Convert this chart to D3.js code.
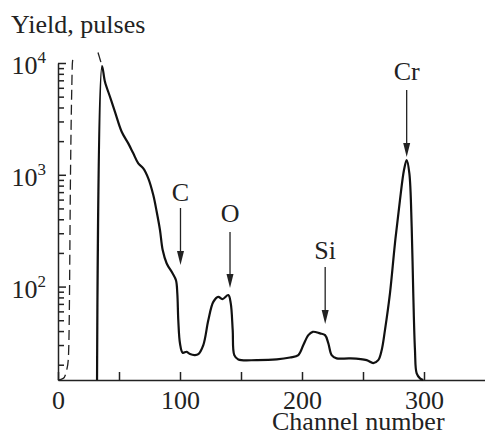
<!DOCTYPE html>
<html><head><meta charset="utf-8">
<script src="https://cdn.jsdelivr.net/npm/d3@7"></script>
<style>body{margin:0;background:#fff}svg{display:block}</style>
</head><body>
<script>
// Solid spectrum (channel, yield)
const channels = [32.0,36.1,38.5,42.6,46.7,52.2,57.6,61.7,65.8,69.9,74.0,78.1,80.9,83.6,85.8,89.1,94.0,96.7,97.8,98.6,100.0,102.2,105.5,108.2,112.3,115.0,119.1,123.2,127.3,131.4,134.7,139.6,141.6,143.2,144.5,147.8,162.9,179.3,190.2,197.0,201.1,205.2,208.8,214.8,218.9,221.6,224.3,228.4,239.3,253.0,258.4,262.5,265.3,268.0,272.1,276.2,280.3,283.6,285.8,288.0,289.9,291.2,292.6,294.0,296.7,299.4];
const yields   = [14.6,9400,6800,4990,3660,2430,1910,1555,1265,1142,930,659,467,320,212,161,131,114,87,50,31,25.6,26.1,24.9,24.4,24.9,30,50,73,81,77.3,84,70.8,40.8,24.4,22.3,22,22.3,23.2,24.4,30,36.8,39.4,38.1,36.8,31,24.4,22.8,22.8,22,20.7,22,27,40.8,87,244,594,1103,1355,1030,343,87,27,16.7,15.1,14.6];
// Dashed reference spectrum
const dashChannels = [0,4.3,7.1,8.4,9.3,9.7,10.1,10.7,11.3,11.8,12.5];
const dashYields   = [14.6,15.1,17.9,22,60,200,700,2500,6000,10000,11300];
// Dashed continuation above the main peak
const extChannels = [32.8,36.1];
const extYields   = [12400,9400];
// Axis ticks
const xTicks = [0,50,100,150,200,250,300];
const xTickLabels = ["0","","100","","200","","300"];
const yMajor = [100,1000,10000];
const yMajorExp = ["2","3","4"];
const yMinor = [20,30,40,50,60,70,80,90,200,300,400,500,600,700,800,900,2000,3000,4000,5000,6000,7000,8000,9000];
// Peak annotations
const peakNames = ["C","O","Si","Cr"];
const peakChannels = [100.4,141.0,219.0,285.8];

const W=485,H=437;
const font='"Liberation Serif","Times New Roman",serif';
const svg=d3.select("body").append("svg").attr("width",W).attr("height",H);
const x=d3.scaleLinear().domain([0,350]).range([58,485]);
const y=d3.scaleLog().domain([14.6,10000]).range([380,63]);

// axes
const gx=svg.append("g").attr("transform","translate(0,380)")
  .call(d3.axisBottom(x).tickValues(xTicks).tickSizeInner(-8).tickSizeOuter(0).tickFormat((d,i)=>xTickLabels[i]));
gx.selectAll("text").attr("dy",null).attr("y",29).style("font-family",font).style("font-size","26px").attr("fill","#222");
const gyMin=svg.append("g").attr("transform","translate(58,0)")
  .call(d3.axisLeft(y).tickValues(yMinor).tickSizeInner(-6).tickSizeOuter(0).tickFormat(""));
const gyMaj=svg.append("g").attr("transform","translate(58,0)")
  .call(d3.axisLeft(y).tickValues(yMajor).tickSizeInner(-8).tickSizeOuter(0).tickFormat(""));
svg.selectAll(".domain, .tick line").attr("stroke","#222").attr("stroke-width",1.5);
gyMin.select(".domain").remove();

// y labels
yMajor.forEach((v,i)=>{
  const t=svg.append("text").attr("x",46).attr("y",y(v)+11).attr("text-anchor","end")
    .style("font-family",font).style("font-size","26px").attr("fill","#222");
  t.append("tspan").text("10");
  t.append("tspan").attr("dy",-11).style("font-size","17px").text(yMajorExp[i]);
});

// titles
svg.append("text").attr("x",11).attr("y",33).text("Yield, pulses")
  .style("font-family",font).style("font-size","26px").attr("fill","#222");
svg.append("text").attr("x",272).attr("y",430).text("Channel number")
  .style("font-family",font).style("font-size","26px").attr("fill","#222");

// curves
const line=d3.line().x(d=>x(d[0])).y(d=>y(d[1])).curve(d3.curveCatmullRom.alpha(0.5));
svg.append("path").datum(channels.map((c,i)=>[c,yields[i]])).attr("d",line)
  .attr("fill","none").attr("stroke","#111").attr("stroke-width",2.2).attr("stroke-linejoin","round");
svg.append("path").datum(dashChannels.map((c,i)=>[c,dashYields[i]]))
  .attr("d",d3.line().x(d=>x(d[0])).y(d=>y(d[1])).curve(d3.curveMonotoneX))
  .attr("fill","none").attr("stroke","#222").attr("stroke-width",1.3).attr("stroke-dasharray","10,5");
svg.append("path").datum(extChannels.map((c,i)=>[c,extYields[i]])).attr("d",d3.line().x(d=>x(d[0])).y(d=>y(d[1])))
  .attr("fill","none").attr("stroke","#222").attr("stroke-width",1.3).attr("stroke-dasharray","10,6");

// annotations
const labelY=[201,222,259,80];
const arrowTop=[208,232,267,90];
const arrowTip=[265,288,324,157];
peakNames.forEach((n,i)=>{
  const px=x(peakChannels[i]);
  svg.append("text").attr("x",px).attr("y",labelY[i]).attr("text-anchor","middle").text(n)
    .style("font-family",font).style("font-size","26px").attr("fill","#222");
  svg.append("line").attr("x1",px).attr("x2",px).attr("y1",arrowTop[i]).attr("y2",arrowTip[i]-8)
    .attr("stroke","#222").attr("stroke-width",1.3);
  svg.append("path").attr("d",`M${px-3.5},${arrowTip[i]-14}L${px+3.5},${arrowTip[i]-14}L${px},${arrowTip[i]}Z`).attr("fill","#222");
});
</script>
</body></html>
